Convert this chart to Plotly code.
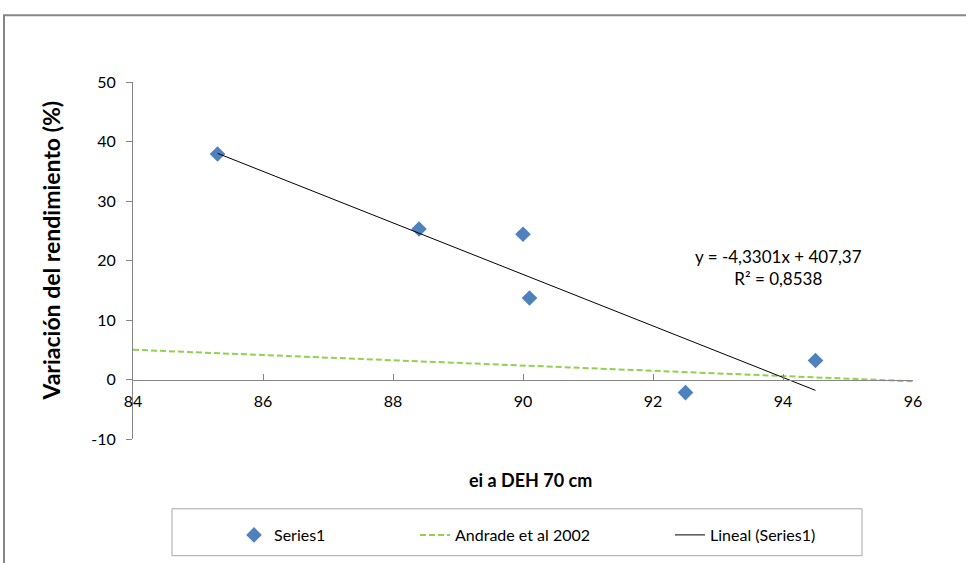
import plotly.graph_objects as go

# Observed points
ei_deh = [85.3, 88.4, 90.0, 90.1, 92.5, 94.5]
variacion = [37.9, 25.3, 24.4, 13.7, -2.2, 3.2]

# Reference line (Andrade et al 2002)
andrade_x = [84, 96]
andrade_y = [5.0, -0.3]

# Fitted linear trend
slope = -4.3301
intercept = 407.37
r2 = 0.8538

x_ticks = [84, 86, 88, 90, 92, 94, 96]
y_ticks = [-10, 0, 10, 20, 30, 40, 50]

FONT = "Lato"
W, H = 966, 563
ML, MR, MT, MB = 133, 53, 82, 123
PW, PH = W - ML - MR, H - MT - MB


def px(x):
    return (x - ML) / PW


def py(y):
    return (H - MB - y) / PH


trend_x = [min(ei_deh), max(ei_deh)]
trend_y = [slope * v + intercept for v in trend_x]

fig = go.Figure()
fig.add_trace(go.Scatter(
    x=ei_deh, y=variacion, mode="markers", name="Series1",
    marker=dict(symbol="diamond", size=12, color="#4F81BD"),
    legend="legend",
))
fig.add_trace(go.Scatter(
    x=andrade_x, y=andrade_y, mode="lines", name="Andrade et al 2002",
    line=dict(color="#92D050", width=2, dash="6px,3px"),
    legend="legend2",
))
fig.add_trace(go.Scatter(
    x=trend_x, y=trend_y, mode="lines", name="Lineal (Series1)",
    line=dict(color="#000000", width=1),
    legend="legend3",
))

axis_gray = "#868686"
y_min, y_max = -10, 50
leg_common = dict(yanchor="middle", xanchor="left", orientation="h",
                  bgcolor="rgba(0,0,0,0)", font=dict(size=16))

fig.update_layout(
    width=W, height=H,
    margin=dict(l=ML, r=MR, t=MT, b=MB),
    paper_bgcolor="white", plot_bgcolor="white",
    font=dict(family=FONT, size=16, color="#000"),
    xaxis=dict(
        range=[84, 96], tickvals=x_ticks, ticktext=[str(v) for v in x_ticks],
        ticks="inside", ticklen=6,
        tickcolor=axis_gray, showline=True, linecolor=axis_gray, linewidth=1,
        showgrid=False, zeroline=False, anchor="free",
        position=(0 - y_min) / (y_max - y_min),
        ticklabelstandoff=7, tickfont=dict(size=16),
    ),
    yaxis=dict(
        range=[y_min, y_max], tickvals=y_ticks, ticktext=[str(v) for v in y_ticks],
        ticks="outside", ticklen=6,
        tickcolor=axis_gray, showline=True, linecolor=axis_gray, linewidth=1,
        showgrid=False, zeroline=False, tickfont=dict(size=16),
        ticklabelstandoff=7,
    ),
    legend=dict(x=px(234), y=py(535), **leg_common),
    legend2=dict(x=px(415), y=py(535), **leg_common),
    legend3=dict(x=px(670), y=py(535), **leg_common),
    showlegend=True,
)

# Chart border and legend frame
fig.add_shape(type="rect", xref="paper", yref="paper",
              x0=px(4), x1=px(975), y0=py(575), y1=py(15),
              line=dict(color=axis_gray, width=2), layer="below")
fig.add_shape(type="rect", xref="paper", yref="paper",
              x0=px(172), x1=px(862), y0=py(557), y1=py(510),
              line=dict(color="#A6A6A6", width=1), layer="below")

fig.add_annotation(
    text="Variación del rendimiento (%)", xref="paper", yref="paper",
    x=px(51), y=py(251), xanchor="center", yanchor="middle",
    textangle=-90, showarrow=False,
    font=dict(size=23, family=FONT, weight="bold"),
)
fig.add_annotation(
    text="ei a DEH 70 cm", xref="paper", yref="paper",
    x=px(530), y=py(481), xanchor="center", yanchor="middle",
    showarrow=False,
    font=dict(size=18, family=FONT, weight="bold"),
)

fmt = lambda v, d: f"{v:.{d}f}".replace(".", ",")
fig.add_annotation(
    text=f"y = {fmt(slope, 4)}x + {fmt(intercept, 2)}<br>R² = {fmt(r2, 4)}",
    xref="paper", yref="paper", x=px(778), y=py(268),
    xanchor="center", yanchor="middle", showarrow=False,
    font=dict(size=17, family=FONT), align="center",
)

fig.write_html("out.html")
